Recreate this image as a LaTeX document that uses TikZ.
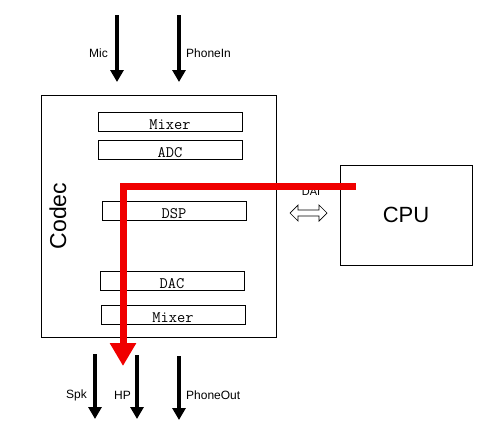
\documentclass[tikz,border=0pt]{standalone}
\usepackage{fontspec}
\setmainfont{Liberation Sans}
\usetikzlibrary{arrows.meta}
\definecolor{redline}{RGB}{240,0,0}
\tikzset{
  x=1pt, y=-1pt,
  blockbox/.style={draw, line width=0.8pt, minimum width=144pt, minimum height=19pt, inner sep=0pt, text height=15pt, text depth=0pt, font=\ttfamily\fontsize{16}{17}\selectfont},
  bigbox/.style={draw, line width=0.9pt, inner sep=0pt},
  sigarrow/.style={line width=4pt, -{Triangle[width=13pt,length=12pt]}},
  siglabel/.style={font=\fontsize{12}{14}\selectfont, inner sep=0pt},
  datapath/.style={draw=redline, line width=7pt, -{Triangle[width=25pt,length=23pt]}},
}
\begin{document}
\begin{tikzpicture}
\useasboundingbox (0,0) rectangle (496,440);
% codec
\node[bigbox, minimum width=235pt, minimum height=242pt] (codec) at (158.5,216) {};
\node[font=\fontsize{23}{26}\selectfont, rotate=90, inner sep=0pt] (codeclbl) at (58,216) {Codec};
\node[blockbox] (mixin) at (170,121.5) {Mixer};
\node[blockbox] (adc) at (170,149.5) {ADC};
\node[blockbox] (dsp) at (174,210.5) {DSP};
\node[blockbox] (dac) at (172,280.5) {DAC};
\node[blockbox] (mixout) at (173,314.5) {Mixer};
% cpu
\node[bigbox, minimum width=132pt, minimum height=100pt, font=\fontsize{22}{24}\selectfont] (cpu) at (406,215) {CPU};
% DAI
\node[siglabel, font=\fontsize{11}{13}\selectfont] (dai) at (311,192) {DAI};
\draw[line width=0.7pt] (290,213) -- (298,205) -- (298,210) -- (319,210) -- (319,205) -- (327,213) -- (319,221) -- (319,216) -- (298,216) -- (298,221) -- cycle;
% inputs
\coordinate (micS) at (117,15);
\coordinate (micE) at (117,82);
\coordinate (phS) at (179,15);
\coordinate (phE) at (179,82);
\draw[sigarrow] (micS) -- (micE);
\draw[sigarrow] (phS) -- (phE);
\node[siglabel, anchor=east] (mic) at (108,53) {Mic};
\node[siglabel, anchor=west] (phin) at (186,53) {PhoneIn};
% outputs
\coordinate (spkS) at (95,354);
\coordinate (spkE) at (95,419);
\coordinate (hpS) at (137,355);
\coordinate (hpE) at (137,419);
\coordinate (poS) at (179,356);
\coordinate (poE) at (179,420);
\draw[sigarrow] (spkS) -- (spkE);
\draw[sigarrow] (hpS) -- (hpE);
\draw[sigarrow] (poS) -- (poE);
\node[siglabel, anchor=east] (spk) at (87,395) {Spk};
\node[siglabel, anchor=east] (hp) at (131,395) {HP};
\node[siglabel, anchor=west] (pout) at (186,395) {PhoneOut};
% red data path
\coordinate (redS) at (356,186);
\coordinate (redC) at (123,186);
\coordinate (redE) at (123,366);
\draw[datapath] (redS) -- (redC) -- (redE);
\end{tikzpicture}
\end{document}
